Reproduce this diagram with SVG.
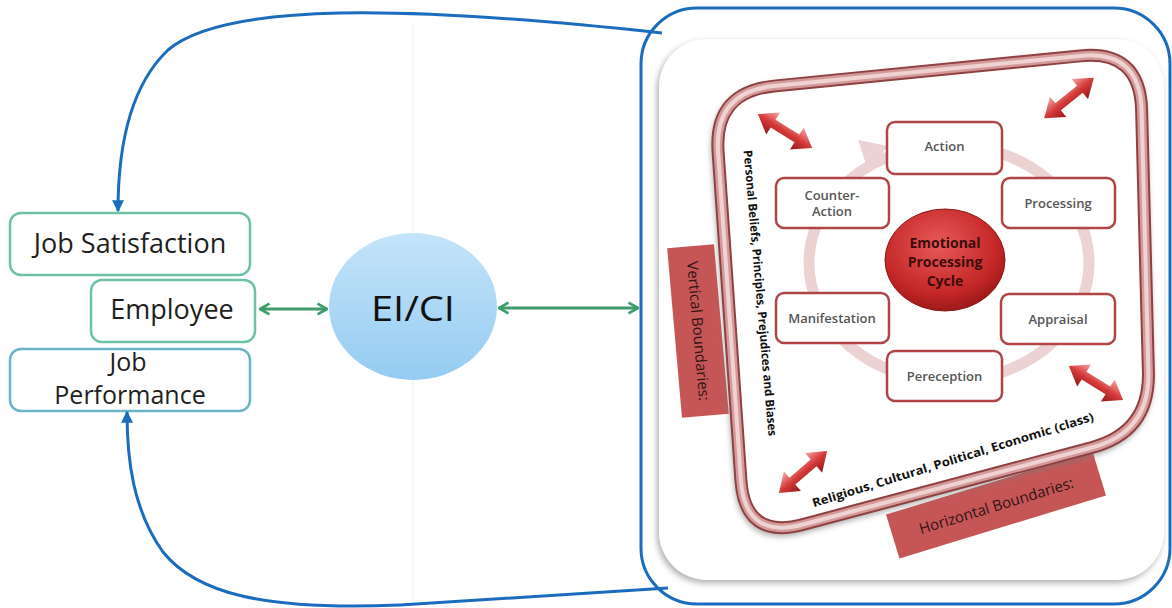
<svg xmlns="http://www.w3.org/2000/svg" width="1172" height="608" viewBox="0 0 1172 608">
<defs>
<style>
.lbl{font-family:"Open Sans","Liberation Sans",sans-serif;fill:#1e1e1e;font-size:27px;text-anchor:middle}
.lbl2{font-family:"Open Sans","Liberation Sans",sans-serif;fill:#1e1e1e;font-size:25px;text-anchor:middle}
.gbox{fill:#fff;stroke:#6cc3a3;stroke-width:2.5}
.bbox{fill:#fff;stroke:#6ab4c8;stroke-width:2.5}
.blue{fill:none;stroke:#1a6dbd;stroke-width:3}
.green{fill:none;stroke:#3c9c6a;stroke-width:3}
.cyc{fill:#fff;stroke:#b04545;stroke-width:2.5}
.ct{font-family:"Open Sans","Liberation Sans",sans-serif;font-size:13px;font-weight:600;fill:#555;text-anchor:middle}
.redbox{fill:#c65656}
.rbt{font-family:"Open Sans","Liberation Sans",sans-serif;font-size:15px;fill:#2e1414;text-anchor:middle}
.bt{font-family:"Open Sans","Liberation Sans",sans-serif;font-size:12px;font-weight:700;fill:#111;text-anchor:middle}
.emo{font-family:"Open Sans","Liberation Sans",sans-serif;font-size:14px;font-weight:700;fill:#3d0c0c;text-anchor:middle}
</style>
<marker id="bh" viewBox="0 0 10 10" refX="9" refY="5" markerWidth="4" markerHeight="4" orient="auto"><path d="M0 0L10 5L0 10z" fill="#1a6dbd"/></marker>
<marker id="gh" viewBox="0 0 10 10" refX="9" refY="5" markerWidth="4.5" markerHeight="4.5" orient="auto-start-reverse"><path d="M2 1L9 5L2 9" fill="none" stroke="#3c9c6a" stroke-width="2"/></marker>
<linearGradient id="ball" x1="0" y1="0" x2="0" y2="1"><stop offset="0" stop-color="#c4e4f9"/><stop offset="1" stop-color="#95ccf2"/></linearGradient>
<radialGradient id="red" cx="0.45" cy="0.35" r="0.7"><stop offset="0" stop-color="#e85a5a"/><stop offset="0.7" stop-color="#c42626"/><stop offset="1" stop-color="#8e1616"/></radialGradient>
<linearGradient id="arr" gradientUnits="userSpaceOnUse" x1="0" y1="-12" x2="0" y2="12"><stop offset="0" stop-color="#f4a0a0"/><stop offset="0.5" stop-color="#d63a3a"/><stop offset="1" stop-color="#9a1a1a"/></linearGradient>
<filter id="sh" x="-10%" y="-10%" width="120%" height="120%"><feDropShadow dx="-2" dy="3" stdDeviation="3" flood-color="#8a8a8a" flood-opacity="0.7"/></filter>
<filter id="sh2" x="-10%" y="-10%" width="120%" height="120%"><feDropShadow dx="-1" dy="3" stdDeviation="2.5" flood-color="#777" flood-opacity="0.5"/></filter>
<g id="ra"><path d="M-32 0L-14 -13L-14 -4.5L14 -4.5L14 -13L32 0L14 13L14 4.5L-14 4.5L-14 13Z" fill="url(#arr)"/></g>
<path id="fr" d="M773.7 86.1L1080.3 55.9Q1140 50 1141.6 110L1148.4 372Q1150 432 1092 447.5L803 524.5Q745 540 740.9 480.1L718.1 151.9Q714 92 773.7 86.1Z"/>
</defs>

<rect width="1172" height="608" fill="#fff"/>
<line x1="413" y1="25" x2="413" y2="600" stroke="#f7f7f7" stroke-width="2"/>

<g id="job-satisfaction">
<rect class="gbox" x="10" y="213" width="240" height="62" rx="11"/>
<text class="lbl" x="130" y="253">Job Satisfaction</text>
</g>
<g id="employee">
<rect class="gbox" x="91" y="280" width="164" height="62" rx="11"/>
<text class="lbl" x="172" y="319">Employee</text>
</g>
<g id="job-performance">
<rect class="bbox" x="10" y="349" width="240" height="62" rx="11"/>
<text class="lbl2" x="128" y="371">Job</text>
<text class="lbl2" x="130" y="404">Performance</text>
</g>

<g id="eici">
<ellipse cx="413" cy="306.5" rx="84" ry="73.5" fill="url(#ball)"/>
<text x="413" y="321" font-family="'Open Sans','Liberation Sans',sans-serif" font-size="35" fill="#111" text-anchor="middle" textLength="84" lengthAdjust="spacingAndGlyphs">EI/CI</text>
</g>

<g id="emotional-panel">
<rect x="641" y="8" width="529" height="596" rx="56" fill="#fff" stroke="#1a6dbd" stroke-width="3"/>
<rect x="659" y="39" width="505" height="541" rx="48" fill="#fff" filter="url(#sh)"/>

<g id="vertical-boundaries" transform="translate(698 331) rotate(-5)">
<rect class="redbox" x="-23.5" y="-85" width="47" height="170"/>
<text class="rbt" transform="rotate(90)" x="0" y="5">Vertical Boundaries:</text>
</g>
<g id="horizontal-boundaries" transform="translate(996 505) rotate(-17)">
<rect class="redbox" x="-108" y="-23" width="216" height="46"/>
<text class="rbt" x="0" y="6">Horizontal Boundaries:</text>
</g>

<g id="frame">
<use href="#fr" fill="#fff" stroke="#8f4040" stroke-width="13" filter="url(#sh2)"/>
<use href="#fr" fill="none" stroke="#d49a9a" stroke-width="9"/>
<use href="#fr" fill="none" stroke="#efd2d2" stroke-width="4"/>
</g>

<text class="bt" transform="translate(760 293) rotate(85)" x="0" y="4" textLength="287" lengthAdjust="spacingAndGlyphs">Personal Beliefs, Principles, Prejudices and Biases</text>
<text class="bt" transform="translate(953 460) rotate(-17.2)" x="0" y="4" textLength="294" lengthAdjust="spacingAndGlyphs">Religious, Cultural, Political, Economic (class)</text>

<use href="#ra" transform="translate(785 131) rotate(32)"/>
<use href="#ra" transform="translate(1069 98) rotate(-39)"/>
<use href="#ra" transform="translate(1096 383) rotate(32)"/>
<use href="#ra" transform="translate(803 472) rotate(-41)"/>

<ellipse cx="949" cy="263" rx="140" ry="118" fill="none" stroke="#ecd2d2" stroke-width="11"/>
<polygon points="858,140 888,146 868,170" fill="#ecd2d2"/>

<g id="action"><rect class="cyc" x="887" y="122" width="115" height="52" rx="8"/><text class="ct" x="944.5" y="151">Action</text></g>
<g id="processing"><rect class="cyc" x="1002" y="178" width="113" height="50" rx="8"/><text class="ct" x="1058" y="208">Processing</text></g>
<g id="appraisal"><rect class="cyc" x="1001" y="294" width="114" height="50" rx="8"/><text class="ct" x="1058" y="324">Appraisal</text></g>
<g id="pereception"><rect class="cyc" x="887" y="351" width="115" height="50" rx="8"/><text class="ct" x="944.5" y="381">Pereception</text></g>
<g id="manifestation"><rect class="cyc" x="776" y="293" width="113" height="50" rx="8"/><text class="ct" x="832" y="323">Manifestation</text></g>
<g id="counter-action"><rect class="cyc" x="776" y="178" width="113" height="50" rx="8"/><text class="ct" x="832" y="200">Counter-</text><text class="ct" x="832" y="216">Action</text></g>

<g id="emotional-processing-cycle">
<ellipse cx="945" cy="260" rx="60" ry="51" fill="url(#red)" stroke="#8a1a1a" stroke-width="1"/>
<text class="emo" x="945" y="248">Emotional</text>
<text class="emo" x="945" y="267">Processing</text>
<text class="emo" x="945" y="286">Cycle</text>
</g>
</g>

<g id="connectors">
<path class="blue" d="M662 33C560 22 440 11 340 13C250 15 195 27 168 50C128 88 118 150 118 211" marker-end="url(#bh)"/>
<path class="blue" d="M668 588L400 605C260 611 195 592 163 552C133 510 127 460 127 412" marker-end="url(#bh)"/>
<line class="green" x1="260" y1="309" x2="327" y2="309" marker-start="url(#gh)" marker-end="url(#gh)"/>
<line class="green" x1="499" y1="308" x2="638" y2="308" marker-start="url(#gh)" marker-end="url(#gh)"/>
</g>
</svg>
